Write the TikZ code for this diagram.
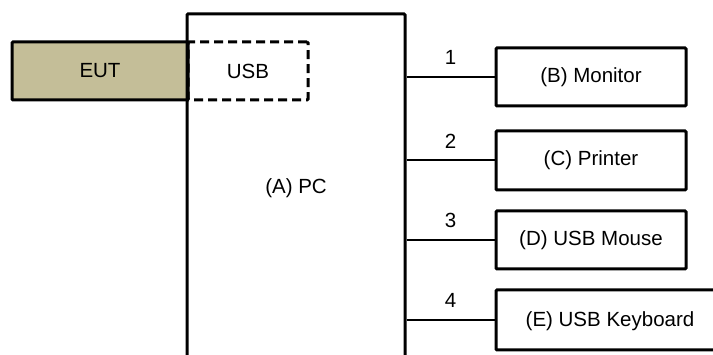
\documentclass[tikz,border=0pt]{standalone}
\usepackage{fontspec}
\setmainfont{Liberation Sans}
\definecolor{eutfill}{HTML}{C4BE98}
\begin{document}
\begin{tikzpicture}[x=1pt,y=-1pt,
  every node/.style={font=\fontsize{20.5}{24}\selectfont, inner sep=0pt},
  box/.style={draw, line width=3pt, rounded corners=1pt, rectangle},
  conn/.style={line width=2pt},
  num/.style={above=11pt}]
\useasboundingbox (0,0) rectangle (713,355);
% EUT and USB
\node[box, fill=eutfill, minimum width=176pt, minimum height=58pt] (EUT) at (100,71) {EUT};
\node[box, dashed, dash pattern=on 9pt off 5pt, minimum width=120pt, minimum height=58pt] (USB) at (248,71) {USB};
% PC
\node[box, minimum width=218pt, minimum height=370pt] (PC) at (296,199) {};
\node (PCt) at (296,188) {(A) PC};
% peripherals
\node[box, minimum width=190pt, minimum height=58pt] (B) at (591,77) {(B) Monitor};
\node[box, minimum width=190pt, minimum height=59pt] (C) at (591,160.5) {(C) Printer};
\node[box, minimum width=190pt, minimum height=58pt] (D) at (591,240) {(D) USB Mouse};
\node[box, minimum width=230pt, minimum height=60pt] (E) at (611,320) {};
\node (Et) at (610,321) {(E) USB Keyboard};
% connectors
\foreach \n/\k in {B/1,C/2,D/3,E/4}{
  \draw[conn] (PC.east |- \n.west) -- node[num] (l\k) {\k} (\n.west);
}
\end{tikzpicture}
\end{document}
